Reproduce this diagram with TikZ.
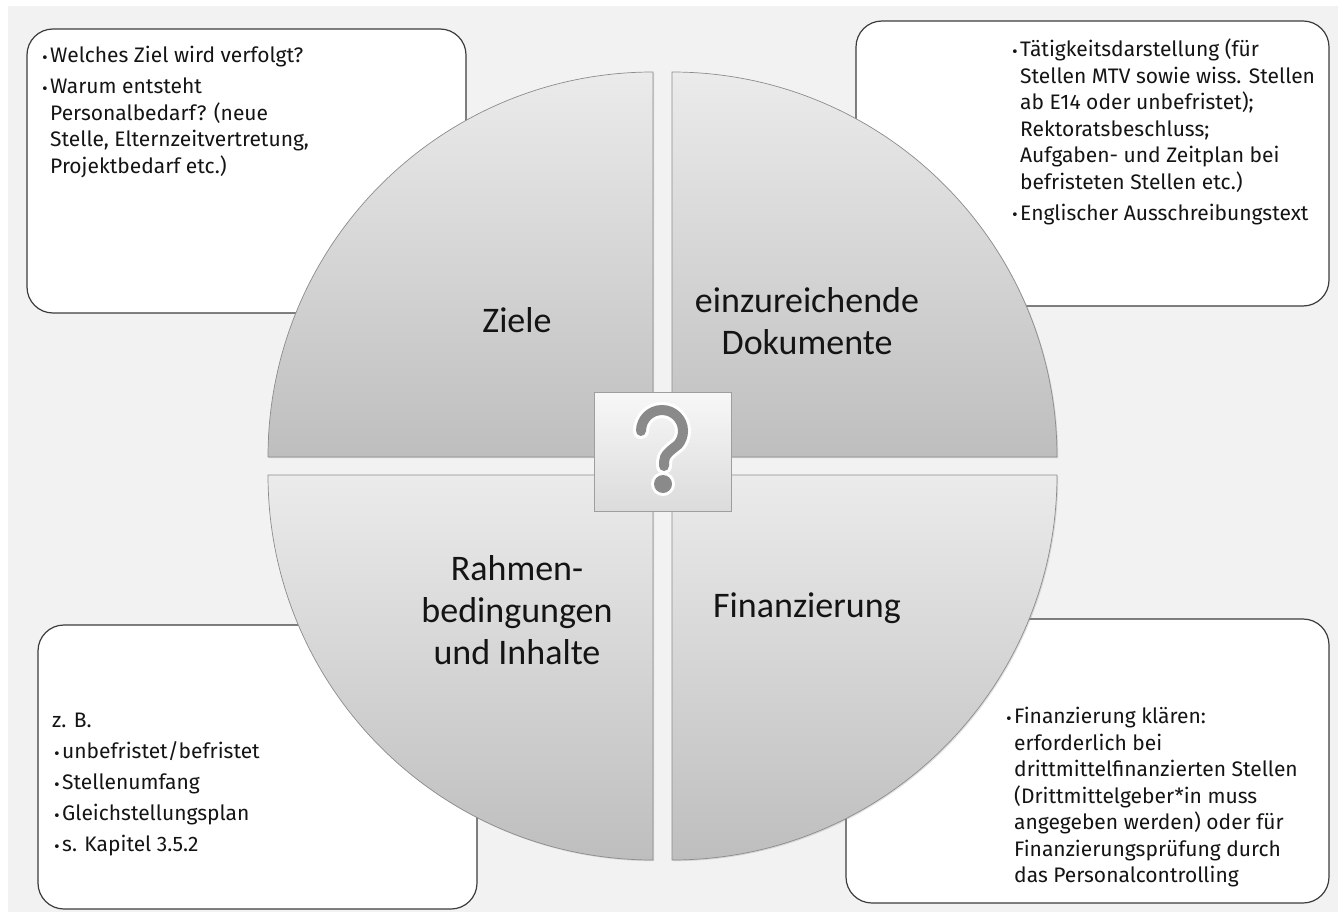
\documentclass[tikz,border=0pt]{standalone}
\usepackage{fontspec}
\setmainfont{Fira Sans}
\newfontfamily\circfont{Carlito}
\newfontfamily\symfont{DejaVu Sans}
\usetikzlibrary{shadows}
\definecolor{bggray}{HTML}{F2F2F2}
\definecolor{boxline}{HTML}{3C3C3C}
\definecolor{quadtop}{HTML}{EBEBEB}
\definecolor{quadbot}{HTML}{BEBEBE}
\definecolor{quadedge}{HTML}{8C8C8C}
\definecolor{qmark}{HTML}{8A8A8A}
\newcommand\bul{\llap{\makebox[9pt][l]{\raisebox{0.5pt}{\symfont\fontsize{13}{13}\selectfont •}}}}
\begin{document}
\begin{tikzpicture}[x=1pt,y=-1pt,
  infobox/.style={draw=boxline,line width=1.2pt,fill=white,rounded corners=26pt},
  infotext/.style={anchor=north west,inner sep=0pt,align=left,font=\fontsize{21}{26.5}\selectfont,text=black!92},
  quad/.style={draw=quadedge,line width=0.7pt,top color=quadtop,bottom color=quadbot,drop shadow={opacity=0.25,shadow xshift=1.2pt,shadow yshift=-1.2pt}},
  quadlabel/.style={align=center,font=\circfont\fontsize{36}{42}\selectfont,text=black!92}
]
\useasboundingbox (0,0) rectangle (1338,912);
\fill[bggray] (8,6) rectangle (1338,912);

% info boxes
\draw[infobox] (27,29) rectangle (466,313);
\draw[infobox] (856,21) rectangle (1329,306);
\draw[infobox] (38,625) rectangle (477,909);
\draw[infobox] (846,619) rectangle (1329,903);

\node[infotext] (tltext) at (50,46) {\bul Welches Ziel wird verfolgt?\\[4.5pt]\bul Warum entsteht\\Personalbedarf? (neue\\Stelle, Elternzeitvertretung,\\Projektbedarf etc.)};
\node[infotext] (trtext) at (1020,39) {\bul Tätigkeitsdarstellung (für\\Stellen MTV sowie wiss. Stellen\\ab E14 oder unbefristet);\\Rektoratsbeschluss;\\Aufgaben- und Zeitplan bei\\befristeten Stellen etc.)\\[4.5pt]\bul Englischer Ausschreibungstext};
\node[infotext] (bltext) at (52,713) {z. B.\\[4.5pt]\hspace*{10pt}\bul unbefristet/befristet\\[4.5pt]\hspace*{10pt}\bul Stellenumfang\\[4.5pt]\hspace*{10pt}\bul Gleichstellungsplan\\[4.5pt]\hspace*{10pt}\bul s. Kapitel 3.5.2};
\node[infotext] (brtext) at (1014,707) {\bul Finanzierung klären:\\erforderlich bei\\drittmittelfinanzierten Stellen\\(Drittmittelgeber*in muss\\angegeben werden) oder für\\Finanzierungsprüfung durch\\das Personalcontrolling};

% quadrants
\path[quad] (653,457) -- (268,457) arc[start angle=180,end angle=90,radius=385pt] -- cycle;
\path[quad] (672,457) -- (672,72) arc[start angle=90,end angle=0,radius=385pt] -- cycle;
\path[quad] (653,475) -- (268,475) arc[start angle=180,end angle=270,radius=385pt] -- cycle;
\path[quad] (672,475) -- (1057,475) arc[start angle=0,end angle=-90,radius=385pt] -- cycle;

\node[quadlabel] (ziele) at (517,320) {Ziele};
\node[quadlabel] (doku) at (807,321) {einzureichende\\Dokumente};
\node[quadlabel] (rahmen) at (517,610) {Rahmen-\\bedingungen\\und Inhalte};
\node[quadlabel] (finanz) at (807,608) {Finanzierung};

% centre square with question mark
\node[draw=black!38,line width=0.8pt,top color=black!3,bottom color=black!14,minimum width=137pt,minimum height=119pt,inner sep=0pt,drop shadow={opacity=0.25,shadow xshift=1.2pt,shadow yshift=-1.2pt}] (qbox) at (662.5,451.5) {};
\draw[white,line width=16pt,line cap=round] (641,431) arc[start angle=180,end angle=-40,radius=21pt] .. controls (670,451) and (664,455) .. (664,462) -- (664,466);
\draw[qmark,line width=10pt,line cap=round] (641,431) arc[start angle=180,end angle=-40,radius=21pt] .. controls (670,451) and (664,455) .. (664,462) -- (664,466);
\fill[white] (663,484) circle[radius=12pt];
\fill[qmark] (663,484) circle[radius=9pt];
\end{tikzpicture}
\end{document}
